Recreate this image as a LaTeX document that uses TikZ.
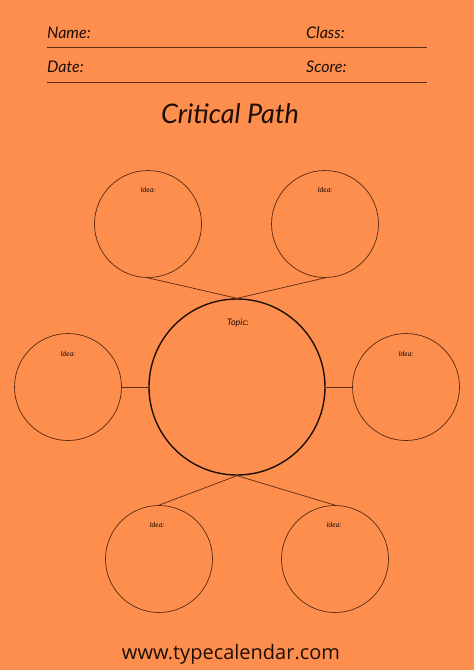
\documentclass[tikz,border=0pt]{standalone}
\usepackage{fontspec}
\setmainfont{Lato}
\newfontfamily\footfont{Open Sans}
\definecolor{bgorange}{HTML}{FD8E4D}
\definecolor{lineb}{HTML}{5A2A12}
\definecolor{inkb}{HTML}{1E0E06}
\begin{document}
\begin{tikzpicture}[x=1pt,y=-1pt,
  idea/.style={circle,draw=lineb,line width=0.7pt,minimum size=107pt,inner sep=0pt},
  topic/.style={circle,draw=inkb,line width=1.4pt,minimum size=176pt,inner sep=0pt},
  conn/.style={draw=lineb,line width=0.7pt},
  hdr/.style={font=\itshape\fontsize{16}{16}\selectfont,text=inkb,anchor=west,inner sep=0pt},
  lbl/.style={font=\itshape\fontsize{7}{7}\selectfont,text=inkb,inner sep=0pt},
  rule/.style={draw=lineb,line width=0.8pt}]
\fill[bgorange] (0,0) rectangle (474,670);
\useasboundingbox (0,0) rectangle (474,670);
% header
\node[hdr] (name) at (47,33) {Name:};
\node[hdr] (class) at (306,33) {Class:};
\node[hdr] (date) at (47,67) {Date:};
\node[hdr] (score) at (306,67) {Score:};
\coordinate (r1a) at (47,47); \coordinate (r1b) at (427,47);
\coordinate (r2a) at (47,82); \coordinate (r2b) at (427,82);
\draw[rule] (r1a) -- (r1b);
\draw[rule] (r2a) -- (r2b);
% title
\node[font=\itshape\fontsize{27}{27}\selectfont,text=inkb] (title) at (230,114) {Critical Path};
% circles
\node[topic] (topic) at (237,387) {};
\node[idea] (tl) at (148,224) {};
\node[idea] (tr) at (325,224) {};
\node[idea] (ml) at (68,387) {};
\node[idea] (mr) at (406,387) {};
\node[idea] (bl) at (159,559) {};
\node[idea] (br) at (335,559) {};
% labels
\node[lbl] (ltl) at (148,190) {Idea:};
\node[lbl] (ltr) at (325,190) {Idea:};
\node[lbl] (lml) at (68,354) {Idea:};
\node[lbl] (lmr) at (406,354) {Idea:};
\node[lbl] (lbl1) at (157,525) {Idea:};
\node[lbl] (lbr) at (334,525) {Idea:};
\node[font=\itshape\fontsize{9}{9}\selectfont,text=inkb,inner sep=0pt] (ltopic) at (238,323) {Topic:};
% connectors
\draw[conn] (tl.south) -- (topic.north);
\draw[conn] (tr.south) -- (topic.north);
\draw[conn] (ml.east) -- (topic.west);
\draw[conn] (mr.west) -- (topic.east);
\draw[conn] (bl.north) -- (topic.south);
\draw[conn] (br.north) -- (topic.south);
% footer
\node[font=\footfont\fontsize{20}{20}\selectfont,text=inkb] (foot) at (231,654) {www.typecalendar.com};
\end{tikzpicture}
\end{document}
